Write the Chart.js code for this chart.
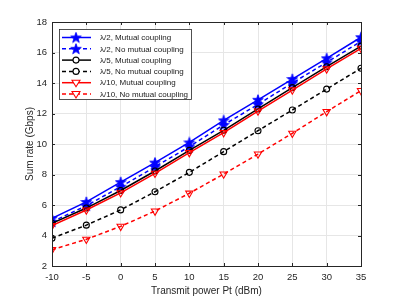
<!DOCTYPE html>
<html><head><meta charset="utf-8">
<script src="https://cdn.jsdelivr.net/npm/chart.js@4/dist/chart.umd.min.js"></script>
<style>html,body{margin:0;padding:0;background:#fff;}#wrap{width:399px;height:299px;}</style>
</head><body><div id="wrap"><canvas id="c" width="399" height="299"></canvas></div>
<script>
const powerDbm = [-10, -5, 0, 5, 10, 15, 20, 25, 30, 35];
const halfMC   = [5.13, 6.2, 7.5, 8.78, 10.1, 11.55, 12.9, 14.26, 15.62, 17.0];
const halfNMC  = [4.9, 5.95, 7.2, 8.5, 9.83, 11.25, 12.6, 14.0, 15.35, 16.73];
const fifthMC  = [4.8, 5.8, 6.95, 8.23, 9.58, 10.9, 12.3, 13.7, 15.07, 16.42];
const fifthNMC = [3.82, 4.68, 5.68, 6.87, 8.14, 9.5, 10.87, 12.23, 13.6, 14.97];
const tenthMC  = [4.65, 5.67, 6.8, 8.08, 9.43, 10.74, 12.16, 13.54, 14.92, 16.27];
const tenthNMC = [3.07, 3.75, 4.6, 5.6, 6.77, 8.03, 9.34, 10.7, 12.12, 13.5];
const seriesNames = ['λ/2, Mutual coupling','λ/2, No mutual coupling','λ/5, Mutual coupling','λ/5, No mutual coupling','λ/10, Mutual coupling','λ/10, No mutual coupling'];
const xTicks = [-10, 35, 5];
const yTicks = [2, 18, 2];

function makeStar(color){
  const s=12, cv=document.createElement('canvas'); cv.width=s; cv.height=s;
  const g=cv.getContext('2d'); g.beginPath();
  const R=5.6, r=2.3, cx=s/2, cy=s/2+0.4;
  for(let i=0;i<10;i++){const a=-Math.PI/2+i*Math.PI/5; const rr=i%2?r:R; g.lineTo(cx+rr*Math.cos(a), cy+rr*Math.sin(a));}
  g.closePath(); g.fillStyle=color; g.fill(); g.strokeStyle=color; g.lineWidth=0.8; g.stroke();
  return cv;
}
const starImg = makeStar('#0000ff');

function pts(arr){ return powerDbm.map((x,i)=>({x:x, y:arr[i]})); }
const BLUE='#0000ff', BLACK='#000000', RED='#ff0000';
const styles = [
  {c:BLUE, dash:[], m:'star'},
  {c:BLUE, dash:[4,3], m:'star'},
  {c:BLACK, dash:[], m:'circle'},
  {c:BLACK, dash:[4,3], m:'circle'},
  {c:RED, dash:[], m:'tri'},
  {c:RED, dash:[4,3], m:'tri'}
];
const allData=[halfMC,halfNMC,fifthMC,fifthNMC,tenthMC,tenthNMC];
const datasets = allData.map((d,i)=>{
  const s=styles[i];
  const ds={label:seriesNames[i], data:pts(d), borderColor:s.c, backgroundColor:'#fff', borderWidth:1.5, borderDash:s.dash, pointBorderWidth:1.1, pointBorderColor:s.c, tension:0};
  if(s.m==='star'){ds.pointStyle=starImg;}
  else if(s.m==='circle'){ds.pointStyle='circle'; ds.pointRadius=3; ds.pointBackgroundColor='rgba(0,0,0,0)';}
  else {ds.pointStyle='triangle'; ds.pointRotation=180; ds.pointRadius=4.2; ds.pointBackgroundColor='rgba(0,0,0,0)';}
  return ds;
});
datasets.forEach((d,i)=>d.order=6-i);

const boxPlugin = {
  id:'box',
  afterDraw(chart){
    const ctx=chart.ctx, a=chart.chartArea;
    ctx.save();
    ctx.strokeStyle='#262626'; ctx.lineWidth=1;
    ctx.strokeRect(Math.round(a.left)+0.5, Math.round(a.top)+0.5, Math.round(a.right-a.left), Math.round(a.bottom-a.top));
    const xs=chart.scales.x, ys=chart.scales.y;
    ctx.beginPath();
    for(let v=xTicks[0]; v<=xTicks[1]; v+=xTicks[2]){
      const px=Math.round(xs.getPixelForValue(v))+0.5;
      ctx.moveTo(px,a.bottom); ctx.lineTo(px,a.bottom-3);
      ctx.moveTo(px,a.top); ctx.lineTo(px,a.top+3);
    }
    for(let v=yTicks[0]; v<=yTicks[1]; v+=yTicks[2]){
      const py=Math.round(ys.getPixelForValue(v))+0.5;
      ctx.moveTo(a.left,py); ctx.lineTo(a.left+3,py);
      ctx.moveTo(a.right,py); ctx.lineTo(a.right-3,py);
    }
    ctx.stroke();
    const L=59.5, T=29.5, W=132, H=70;
    ctx.fillStyle='#fff'; ctx.fillRect(L,T,W,H);
    ctx.strokeStyle='#262626'; ctx.lineWidth=0.8; ctx.strokeRect(L,T,W,H);
    ctx.font='8px "Liberation Sans", Arial, sans-serif'; ctx.textBaseline='middle'; ctx.textAlign='left';
    for(let i=0;i<6;i++){
      const s=styles[i], y=37.5+i*11.3;
      ctx.strokeStyle=s.c; ctx.lineWidth=1.5; ctx.setLineDash(s.dash);
      ctx.beginPath(); ctx.moveTo(62,y); ctx.lineTo(91,y); ctx.stroke(); ctx.setLineDash([]);
      const mx=76;
      if(s.m==='star'){ ctx.drawImage(starImg, mx-6, y-6); }
      else if(s.m==='circle'){ ctx.fillStyle='#fff'; ctx.lineWidth=1.1; ctx.beginPath(); ctx.arc(mx,y,3,0,Math.PI*2); ctx.fill(); ctx.stroke(); }
      else { ctx.fillStyle='#fff'; ctx.lineWidth=1.1; ctx.beginPath(); ctx.moveTo(mx-4,y-2.5); ctx.lineTo(mx+4,y-2.5); ctx.lineTo(mx,y+4); ctx.closePath(); ctx.fill(); ctx.stroke(); }
      ctx.fillStyle='#1a1a1a'; ctx.fillText(seriesNames[i], 100, y+0.5);
    }
    ctx.restore();
  }
};

const FONT='"Liberation Sans", Arial, sans-serif';
new Chart(document.getElementById('c'), {
  type:'line',
  data:{datasets:datasets},
  plugins:[boxPlugin],
  options:{
    responsive:false, animation:false,
    layout:{padding:{left:0, top:22, right:38, bottom:0}},
    plugins:{legend:{display:false}, tooltip:{enabled:false}},
    scales:{
      x:{type:'linear', min:xTicks[0], max:xTicks[1],
        afterFit(s){ s.height=33; },
        ticks:{stepSize:xTicks[2], padding:6, color:'#262626', font:{size:9.5, family:FONT}},
        grid:{color:'#e6e6e6', drawTicks:false}, border:{display:false},
        title:{display:true, text:'Transmit power Pt (dBm)', color:'#262626', padding:{top:0,bottom:2}, font:{size:10, family:FONT}}},
      y:{type:'linear', min:yTicks[0], max:yTicks[1],
        afterFit(s){ s.width=52; },
        ticks:{stepSize:yTicks[2], padding:5, color:'#262626', font:{size:9.5, family:FONT}},
        grid:{color:'#e6e6e6', drawTicks:false}, border:{display:false},
        title:{display:true, text:'Sum rate (Gbps)', color:'#262626', padding:{top:24,bottom:0}, font:{size:10, family:FONT}}}
    }
  }
});
</script></body></html>
